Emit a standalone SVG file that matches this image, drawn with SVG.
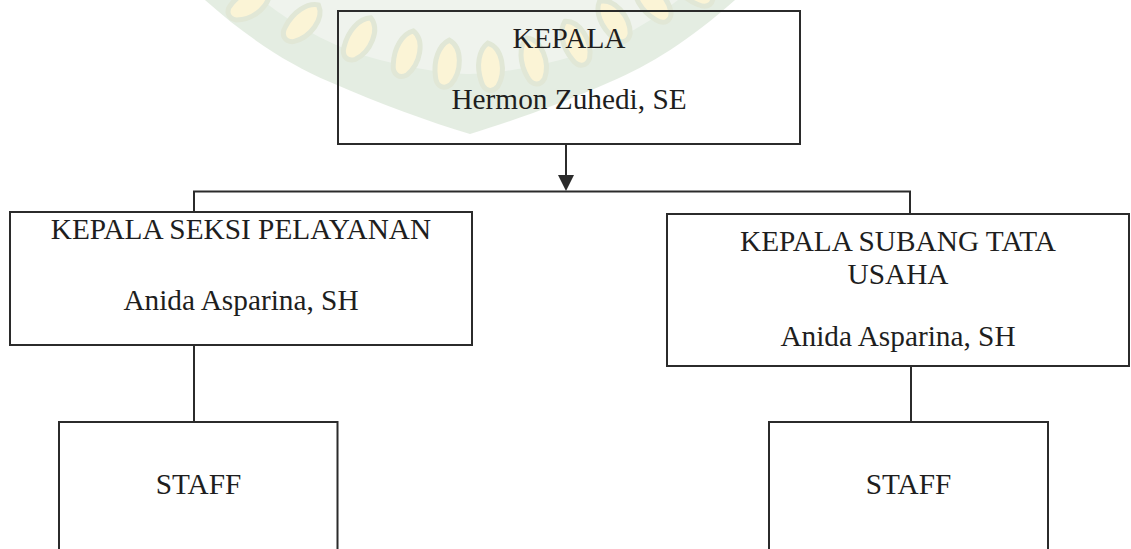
<svg xmlns="http://www.w3.org/2000/svg" width="1131" height="549" viewBox="0 0 1131 549">
  <style>
    .box { fill: none; stroke: #2b2b2b; stroke-width: 2; }
    .line { fill: none; stroke: #2b2b2b; stroke-width: 2; }
    .t { font-family: "Liberation Serif", "Times New Roman", serif; font-size: 29.3px; fill: #1e1e1e; text-anchor: middle; }
    .leaf { fill: #f9ecb6; stroke: #c9d4b6; stroke-width: 5; }
  </style>
  <defs>
    <path id="leafShape" d="M0,-23 C14,-17 16,7 6,21 C0,27 -8,25 -10,15 C-14,-1 -10,-17 0,-23 Z"/>
  </defs>
  <rect width="1131" height="549" fill="#ffffff"/>
  <g id="watermark" opacity="0.55">
    <path d="M205,0 C250,40 290,65 330,82 C380,104 430,122 470,134 C510,122 560,104 610,82 C650,65 690,40 735,0 Z" fill="#cfdfcb"/>
    <path d="M262,0 C300,30 340,50 380,60 C420,70 450,74 470,74 C490,74 520,70 560,60 C600,50 640,30 678,0 Z" fill="#e2ebe0"/>
    <g>
      <use href="#leafShape" class="leaf" transform="translate(250 3) rotate(55)"/>
      <use href="#leafShape" class="leaf" transform="translate(303 22) rotate(42)"/>
      <use href="#leafShape" class="leaf" transform="translate(360 38) rotate(28)"/>
      <use href="#leafShape" class="leaf" transform="translate(407 53) rotate(16)"/>
      <use href="#leafShape" class="leaf" transform="translate(447 63) rotate(6)"/>
      <use href="#leafShape" class="leaf" transform="translate(490 66) rotate(-5)"/>
      <use href="#leafShape" class="leaf" transform="translate(533 60) rotate(-16)"/>
      <use href="#leafShape" class="leaf" transform="translate(575 42) rotate(-26)"/>
      <use href="#leafShape" class="leaf" transform="translate(613 20) rotate(-36)"/>
      <use href="#leafShape" class="leaf" transform="translate(652 2) rotate(-45)"/>
      <use href="#leafShape" class="leaf" transform="translate(692 -12) rotate(-55)"/>
    </g>
  </g>
  <g id="connectors">
    <line class="line" x1="566" y1="144" x2="566" y2="176"/>
    <path d="M558,175 L574,175 L566,191 Z" fill="#2b2b2b"/>
    <polyline class="line" points="194,212 194,191.5 910,191.5 910,214"/>
    <line class="line" x1="194" y1="345" x2="194" y2="422"/>
    <line class="line" x1="911" y1="366" x2="911" y2="422"/>
  </g>
  <g id="kepala">
    <rect class="box" x="338" y="11" width="462" height="133"/>
    <text class="t" x="569" y="48">KEPALA</text>
    <text class="t" x="569" y="109">Hermon Zuhedi, SE</text>
  </g>
  <g id="seksi-pelayanan">
    <rect class="box" x="10" y="212" width="462" height="133"/>
    <text class="t" x="241" y="239">KEPALA SEKSI PELAYANAN</text>
    <text class="t" x="241" y="310">Anida Asparina, SH</text>
  </g>
  <g id="subang-tata-usaha">
    <rect class="box" x="667" y="214" width="462" height="152"/>
    <text class="t" x="898" y="251">KEPALA SUBANG TATA</text>
    <text class="t" x="898" y="284">USAHA</text>
    <text class="t" x="898" y="346">Anida Asparina, SH</text>
  </g>
  <g id="staff-left">
    <rect class="box" x="59" y="422" width="278.5" height="140"/>
    <text class="t" x="198.5" y="494">STAFF</text>
  </g>
  <g id="staff-right">
    <rect class="box" x="769" y="422" width="279" height="140"/>
    <text class="t" x="908.5" y="494">STAFF</text>
  </g>
</svg>
